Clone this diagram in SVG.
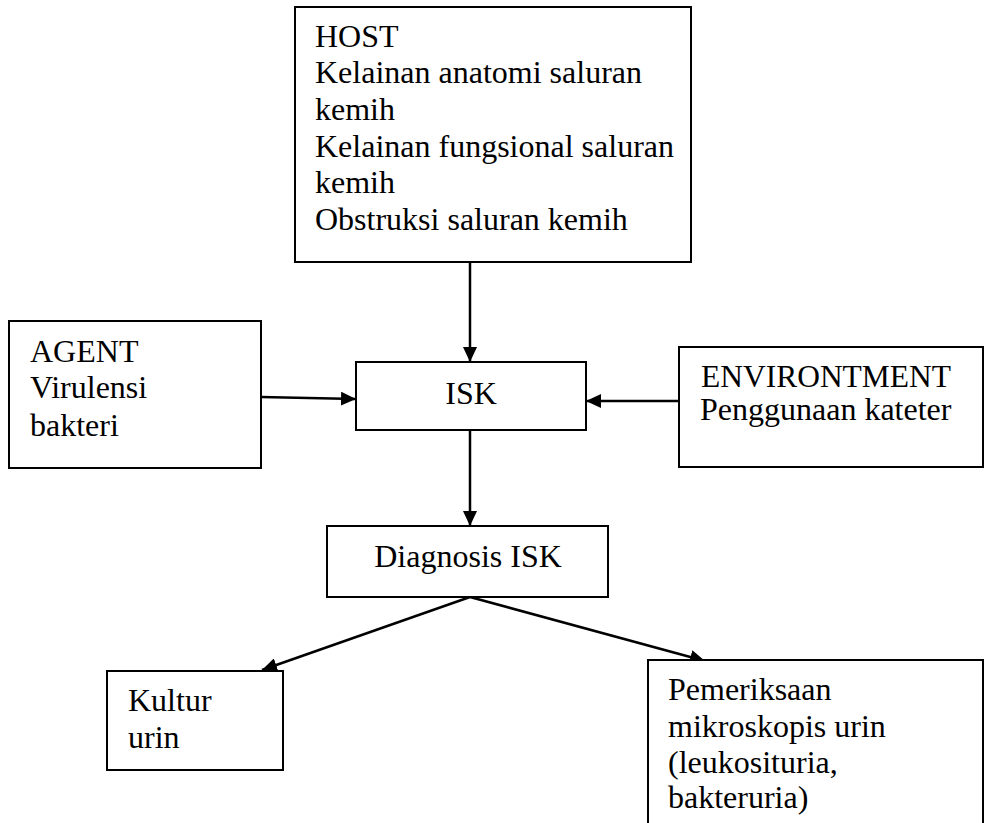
<svg xmlns="http://www.w3.org/2000/svg" width="984" height="823" viewBox="0 0 984 823">
<style>
.box{fill:#fff;stroke:#000;stroke-width:2}
.t{font-family:"Liberation Serif","Times New Roman",serif;font-size:32px;fill:#000}
.c{text-anchor:middle}
.edge{fill:none;stroke:#000;stroke-width:2.5}
</style>
<defs>
<marker id="ah" markerUnits="userSpaceOnUse" markerWidth="16" markerHeight="14" refX="15" refY="7" orient="auto">
<path d="M0,0 L15,7 L0,14 z" fill="#000"/>
</marker>
</defs>
<rect width="984" height="823" fill="#fff"/>
<g id="connectors">
<line class="edge" x1="470" y1="262" x2="470" y2="362" marker-end="url(#ah)"/>
<line class="edge" x1="261" y1="397" x2="356" y2="399" marker-end="url(#ah)"/>
<line class="edge" x1="679" y1="401" x2="586" y2="401" marker-end="url(#ah)"/>
<line class="edge" x1="470" y1="430" x2="470" y2="526" marker-end="url(#ah)"/>
<line class="edge" x1="470" y1="597" x2="262" y2="670" marker-end="url(#ah)"/>
<line class="edge" x1="470" y1="597" x2="705" y2="661" marker-end="url(#ah)"/>
</g>
<g id="host">
<rect class="box" x="295" y="7" width="396" height="255"/>
<text class="t" x="315" y="47">HOST</text>
<text class="t" x="315" y="83">Kelainan anatomi saluran</text>
<text class="t" x="315" y="120">kemih</text>
<text class="t" x="315" y="157">Kelainan fungsional saluran</text>
<text class="t" x="315" y="193">kemih</text>
<text class="t" x="315" y="230">Obstruksi saluran kemih</text>
</g>
<g id="agent">
<rect class="box" x="9" y="321" width="252" height="147"/>
<text class="t" x="30" y="362">AGENT</text>
<text class="t" x="30" y="398">Virulensi</text>
<text class="t" x="30" y="436">bakteri</text>
</g>
<g id="isk">
<rect class="box" x="356" y="362" width="230" height="68"/>
<text class="t c" x="471" y="404">ISK</text>
</g>
<g id="environment">
<rect class="box" x="679" y="347" width="304" height="120"/>
<text class="t" x="701" y="387" textLength="250" lengthAdjust="spacingAndGlyphs">ENVIRONTMENT</text>
<text class="t" x="700" y="420">Penggunaan kateter</text>
</g>
<g id="diagnosis">
<rect class="box" x="327" y="526" width="281" height="71"/>
<text class="t c" x="468" y="567">Diagnosis ISK</text>
</g>
<g id="kultur">
<rect class="box" x="107" y="671" width="176" height="99"/>
<text class="t" x="128" y="711">Kultur</text>
<text class="t" x="128" y="748">urin</text>
</g>
<g id="pemeriksaan">
<rect class="box" x="648" y="660" width="335" height="180"/>
<text class="t" x="668" y="700">Pemeriksaan</text>
<text class="t" x="668" y="737">mikroskopis urin</text>
<text class="t" x="668" y="773">(leukosituria,</text>
<text class="t" x="668" y="808">bakteruria)</text>
</g>
</svg>
